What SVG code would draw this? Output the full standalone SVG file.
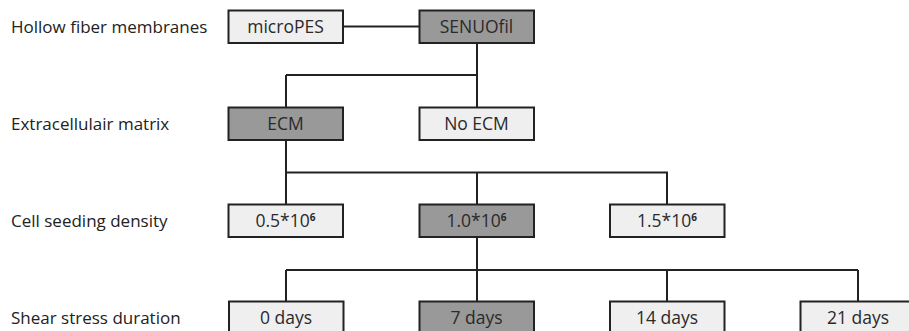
<svg xmlns="http://www.w3.org/2000/svg" width="909" height="331" viewBox="0 0 909 331">
<style>
.lbl{font-family:"Open Sans","Liberation Sans",sans-serif;font-size:17px;fill:#222}
.bt{font-family:"Open Sans","Liberation Sans",sans-serif;font-size:17.5px;fill:#2a2a2a;text-anchor:middle}
.light{fill:#efefef;stroke:#222;stroke-width:2}
.dark{fill:#999;stroke:#222;stroke-width:2}
.con{fill:none;stroke:#222;stroke-width:2}
.sup{font-size:10px;font-weight:bold}
</style>
<rect width="909" height="331" fill="#fff"/>
<g id="row-labels">
<text class="lbl" x="11" y="33">Hollow fiber membranes</text>
<text class="lbl" x="11" y="130">Extracellulair matrix</text>
<text class="lbl" x="11" y="227">Cell seeding density</text>
<text class="lbl" x="11" y="324">Shear stress duration</text>
</g>
<g id="connectors">
<path class="con" d="M343 26.5H419.5"/>
<path class="con" d="M477 43V107.5M286 75H477M286 75V107.5"/>
<path class="con" d="M286 140V204.5M286 172.5H667V204.5M477 172.5V204.5"/>
<path class="con" d="M477 237V301.5M286 270H858M286 270V301.5M667 270V301.5M858 270V301.5"/>
</g>
<g id="microPES"><rect class="light" x="228.5" y="10.5" width="114.5" height="32.5"/><text class="bt" x="285.5" y="33">microPES</text></g>
<g id="SENUOfil"><rect class="dark" x="419.5" y="10.5" width="114.5" height="32.5"/><text class="bt" x="476.5" y="33">SENUOfil</text></g>
<g id="ECM"><rect class="dark" x="228.5" y="107.5" width="114.5" height="32.5"/><text class="bt" x="285.5" y="130">ECM</text></g>
<g id="NoECM"><rect class="light" x="419.5" y="107.5" width="114.5" height="32.5"/><text class="bt" x="476.5" y="130">No ECM</text></g>
<g id="d05"><rect class="light" x="228.5" y="204.5" width="114.5" height="32.5"/><text class="bt" x="285.5" y="227">0.5*10<tspan class="sup" dy="-6">6</tspan></text></g>
<g id="d10"><rect class="dark" x="419.5" y="204.5" width="114.5" height="32.5"/><text class="bt" x="476.5" y="227">1.0*10<tspan class="sup" dy="-6">6</tspan></text></g>
<g id="d15"><rect class="light" x="610" y="204.5" width="114.5" height="32.5"/><text class="bt" x="667" y="227">1.5*10<tspan class="sup" dy="-6">6</tspan></text></g>
<g id="days0"><rect class="light" x="229" y="301.5" width="114.5" height="33"/><text class="bt" x="286" y="324">0 days</text></g>
<g id="days7"><rect class="dark" x="419.5" y="301.5" width="114.5" height="33"/><text class="bt" x="476.5" y="324">7 days</text></g>
<g id="days14"><rect class="light" x="610" y="301.5" width="114.5" height="33"/><text class="bt" x="667" y="324">14 days</text></g>
<g id="days21"><rect class="light" x="800.5" y="301.5" width="114.5" height="33"/><text class="bt" x="858" y="324">21 days</text></g>
</svg>
